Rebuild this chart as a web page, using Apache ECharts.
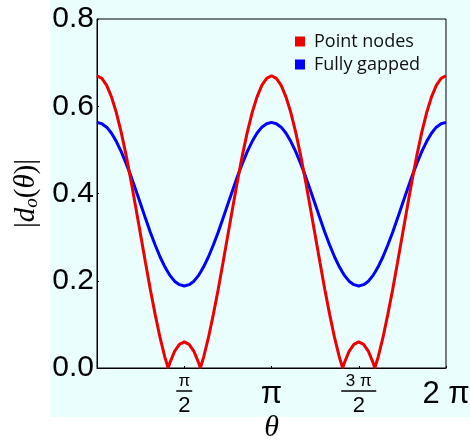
<!DOCTYPE html>
<html>
<head>
<meta charset="utf-8">
<script src="https://cdn.jsdelivr.net/npm/echarts@6/dist/echarts.min.js"></script>
<style>
html,body{margin:0;padding:0;background:#fff;}
#c{width:470px;height:441px;}
</style>
</head>
<body>
<div id="c"></div>
<script>
// theta in degrees (0..360 = 0..2π)
var theta = [0,5,10,15,20,25,30,35,40,45,50,55,60,65,70,73.4,75,80,85,90,95,100,105,106.6,110,115,120,125,130,135,140,145,150,155,160,165,170,175,180,
  185,190,195,200,205,210,215,220,225,230,235,240,245,250,253.4,255,260,265,270,275,280,285,286.6,290,295,300,305,310,315,320,325,330,335,340,345,350,355,360];
var pointNodes = [0.670,0.664,0.648,0.621,0.585,0.540,0.488,0.430,0.368,0.305,0.242,0.180,0.123,0.070,0.025,0.000,0.011,0.038,0.054,0.060,0.054,0.038,0.011,0.000,0.025,0.070,0.123,0.180,0.242,0.305,0.368,0.430,0.488,0.540,0.585,0.621,0.648,0.664,0.670,
  0.664,0.648,0.621,0.585,0.540,0.488,0.430,0.368,0.305,0.242,0.180,0.123,0.070,0.025,0.000,0.011,0.038,0.054,0.060,0.054,0.038,0.011,0.000,0.025,0.070,0.123,0.180,0.242,0.305,0.368,0.430,0.488,0.540,0.585,0.621,0.648,0.664,0.670];
var fullyGapped = [0.563,0.560,0.552,0.538,0.519,0.496,0.469,0.440,0.408,0.376,0.343,0.311,0.282,0.255,0.232,0.219,0.213,0.199,0.191,0.188,0.191,0.199,0.213,0.219,0.232,0.255,0.282,0.311,0.343,0.376,0.408,0.440,0.469,0.496,0.519,0.538,0.552,0.560,0.563,
  0.560,0.552,0.538,0.519,0.496,0.469,0.440,0.408,0.376,0.343,0.311,0.282,0.255,0.232,0.219,0.213,0.199,0.191,0.188,0.191,0.199,0.213,0.219,0.232,0.255,0.282,0.311,0.343,0.376,0.408,0.440,0.469,0.496,0.519,0.538,0.552,0.560,0.563];
var seriesNames = ['Point nodes','Fully gapped'];
var xTickLabels = {0:'', 90:'{num|π}\n{bar| }\n{den|2}', 180:'{big|π}', 270:'{num|3 π}\n{bar3| }\n{den|2}', 360:'{big|2 π}'};
var yTicks = {min:0, max:0.8, step:0.2};

function pairs(xs, ys){ return xs.map(function(x,i){ return [x, ys[i]]; }); }

var chart = echarts.init(document.getElementById('c'), null, {renderer:'canvas'});
chart.setOption({
  animation:false,
  backgroundColor:'#ffffff',
  graphic:[{type:'rect', z:-100, silent:true, shape:{x:50,y:0,width:420,height:417}, style:{fill:'#eafefe'}}],
  grid:{left:97, top:19, right:24, bottom:73, show:true, borderColor:'#000', borderWidth:1, backgroundColor:'transparent', outerBoundsMode:'none', containLabel:false},
  legend:{
    orient:'vertical', left:295, top:30, padding:0, itemWidth:10, itemHeight:10, itemGap:0, icon:'rect',
    data:seriesNames,
    textStyle:{fontFamily:'Open Sans', fontSize:18, color:'#111', padding:[0,0,0,4], lineHeight:23}
  },
  xAxis:{
    type:'value', min:0, max:360, interval:90,
    name:'θ', nameLocation:'middle', nameGap:45, nameMoveOverlap:false,
    nameTextStyle:{fontFamily:'Liberation Serif', fontStyle:'italic', fontSize:30, color:'#000', lineHeight:30},
    axisLine:{show:true, lineStyle:{color:'#000', width:1}},
    axisTick:{show:true, inside:true, length:2, lineStyle:{color:'#000'}},
    splitLine:{show:false},
    axisLabel:{
      margin:6, color:'#000', verticalAlign:'top',
      formatter:function(v){ return xTickLabels[v] !== undefined ? xTickLabels[v] : ''; },
      rich:{
        num:{fontFamily:'Liberation Sans', fontSize:17, lineHeight:14, align:'center'},
        bar:{width:16, height:1.5, lineHeight:6, fontSize:1, backgroundColor:'#000', align:'center'},
        bar3:{width:35, height:1.5, lineHeight:6, fontSize:1, backgroundColor:'#000', align:'center'},
        den:{fontFamily:'Liberation Sans', fontSize:22, lineHeight:24, align:'center'},
        big:{fontFamily:'Liberation Sans', fontSize:31, lineHeight:40, align:'center'}
      }
    }
  },
  yAxis:{
    type:'value', min:yTicks.min, max:yTicks.max, interval:yTicks.step,
    name:'{n||}{i|d}{s|o}{n|(}{i|θ}{n|)|}', nameLocation:'middle', nameGap:56, nameRotate:90, nameMoveOverlap:false,
    nameTextStyle:{
      rich:{
        n:{fontFamily:'Liberation Serif', fontSize:29, color:'#000'},
        i:{fontFamily:'Liberation Serif', fontStyle:'italic', fontSize:29, color:'#000'},
        s:{fontFamily:'Liberation Serif', fontStyle:'italic', fontSize:19, color:'#000', padding:[10,0,0,0]}
      }
    },
    axisLine:{show:true, lineStyle:{color:'#000', width:1}},
    axisTick:{show:true, inside:true, length:2, lineStyle:{color:'#000'}},
    splitLine:{show:false},
    axisLabel:{margin:3, color:'#000', fontFamily:'Liberation Sans', fontSize:30,
      formatter:function(v){ return v.toFixed(1); }}
  },
  series:[
    {name:seriesNames[0], type:'line', data:pairs(theta, pointNodes), showSymbol:false, symbol:'none', smooth:false,
      lineStyle:{color:'#ee0000', width:3}, itemStyle:{color:'#ee0000'}, z:3},
    {name:seriesNames[1], type:'line', data:pairs(theta, fullyGapped), showSymbol:false, symbol:'none', smooth:false,
      lineStyle:{color:'#0000ff', width:3}, itemStyle:{color:'#0000ff'}, z:2}
  ]
});
</script>
</body>
</html>
